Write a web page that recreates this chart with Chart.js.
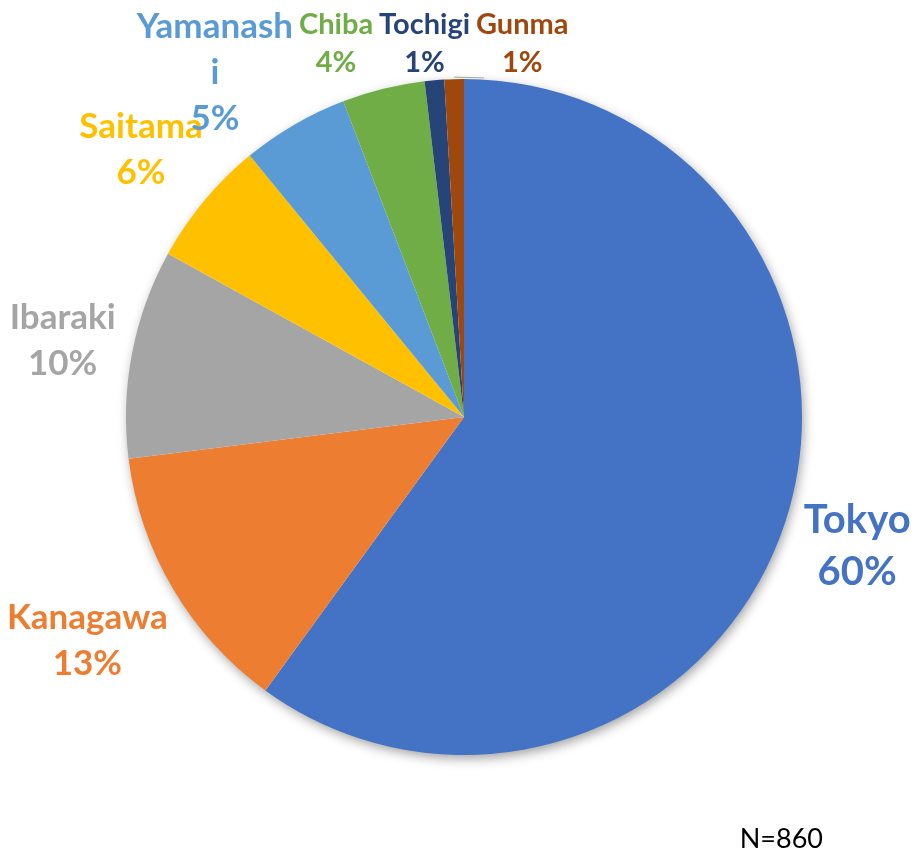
<!DOCTYPE html>
<html>
<head>
<meta charset="utf-8">
<script src="https://cdn.jsdelivr.net/npm/chart.js@4.4.1/dist/chart.umd.min.js"></script>
<style>
  html, body { margin: 0; padding: 0; background: #fff; }
  #wrap { width: 915px; height: 851px; }
</style>
</head>
<body>
<div id="wrap"><canvas id="pieChart" width="915" height="851"></canvas></div>
<script>
const prefectures = ["Tokyo", "Kanagawa", "Ibaraki", "Saitama", "Yamanashi", "Chiba", "Tochigi", "Gunma"];
const respondents = [516, 112, 86, 52, 44, 34, 8, 8];
const sliceColors = ["#4472C4", "#ED7D31", "#A5A5A5", "#FFC000", "#5B9BD5", "#70AD47", "#264478", "#9E480E"];

const total = respondents.reduce((a, b) => a + b, 0);

// break a label by characters when it gets too wide (like Excel does)
function wrapLabel(ctx, text, maxWidth) {
  const lines = [];
  let line = "";
  for (const ch of text) {
    if (line && ctx.measureText(line + ch).width > maxWidth) {
      lines.push(line);
      line = ch;
    } else {
      line += ch;
    }
  }
  lines.push(line);
  return lines;
}

const pieShadow = {
  id: "pieShadow",
  beforeDatasetsDraw(chart) {
    const arc = chart.getDatasetMeta(0).data[0];
    const ctx = chart.ctx;
    ctx.save();
    ctx.shadowColor = "rgba(0,0,0,0.4)";
    ctx.shadowBlur = 12;
    ctx.shadowOffsetX = 2;
    ctx.shadowOffsetY = 4;
    ctx.fillStyle = "#fff";
    ctx.beginPath();
    ctx.arc(arc.x, arc.y, arc.outerRadius - 1, 0, Math.PI * 2);
    ctx.fill();
    ctx.restore();
  },
};

const sliceLabels = {
  id: "sliceLabels",
  afterDatasetsDraw(chart) {
    const ctx = chart.ctx;
    const meta = chart.getDatasetMeta(0);
    const pad = 12, gap = 6, topLimit = 13;

    const boxes = meta.data.map((arc, i) => {
      const share = respondents[i] / total;
      const size = share > 0.5 ? 40 : share >= 0.05 ? 35 : 29;
      const font = `bold ${size}px Lato`;
      ctx.font = font;
      const lines = wrapLabel(ctx, prefectures[i], 163.5);
      lines.push(Math.round(share * 100) + "%");
      const lineH = Math.round(size * 1.3);
      const cap = size * 0.72;
      const w = Math.max(...lines.map((l) => ctx.measureText(l).width));
      const h = (lines.length - 1) * lineH + cap;
      const mid = (arc.startAngle + arc.endAngle) / 2;
      const c = Math.cos(mid), s = Math.sin(mid);
      const d = arc.outerRadius + pad + (Math.abs(c) * w) / 2 + (Math.abs(s) * h) / 2;
      const cx = arc.x + d * c;
      let cy = arc.y + d * s;
      if (cy - h / 2 < topLimit) cy = topLimit + h / 2;
      return { i, arc, mid, font, lines, lineH, cap, w, h, cx, cy, x0: cx };
    });

    // push apart labels sitting on the same row
    const sorted = [...boxes].sort((a, b) => a.cx - b.cx);
    for (let it = 0; it < 400; it++) {
      let moved = false;
      for (let p = 0; p < sorted.length; p++) {
        for (let q = p + 1; q < sorted.length; q++) {
          const a = sorted[p], b = sorted[q];
          const vOverlap =
            Math.min(a.cy + a.h / 2, b.cy + b.h / 2) - Math.max(a.cy - a.h / 2, b.cy - b.h / 2);
          if (vOverlap < 0.5 * Math.min(a.h, b.h)) continue;
          const overlap = a.cx + a.w / 2 + gap - (b.cx - b.w / 2);
          if (overlap > 0.01) {
            a.cx -= overlap / 2;
            b.cx += overlap / 2;
            moved = true;
          }
        }
      }
      if (!moved) break;
    }

    ctx.save();
    boxes.forEach((b) => {
      const top = b.cy - b.h / 2;
      if (Math.abs(b.cx - b.x0) > 45) {
        const r = b.arc.outerRadius;
        ctx.strokeStyle = "#A6A6A6";
        ctx.lineWidth = 1;
        ctx.beginPath();
        ctx.moveTo(b.arc.x + r * Math.cos(b.mid), b.arc.y + r * Math.sin(b.mid) - 2);
        ctx.lineTo(b.cx - b.w / 2 + 8, top + b.h + 6);
        ctx.stroke();
      }
      ctx.font = b.font;
      ctx.fillStyle = sliceColors[b.i];
      ctx.textAlign = "center";
      ctx.textBaseline = "alphabetic";
      b.lines.forEach((line, j) => {
        ctx.fillText(line, b.cx, top + b.cap + j * b.lineH);
      });
    });
    ctx.restore();
  },
  afterDraw(chart) {
    const ctx = chart.ctx;
    ctx.save();
    ctx.font = "27px Lato";
    ctx.fillStyle = "#000";
    ctx.textAlign = "right";
    ctx.textBaseline = "alphabetic";
    ctx.fillText("N=" + total, 823, 848);
    ctx.restore();
  },
};

new Chart(document.getElementById("pieChart"), {
  type: "pie",
  data: {
    labels: prefectures,
    datasets: [
      {
        data: respondents,
        backgroundColor: sliceColors,
        borderWidth: 0,
      },
    ],
  },
  options: {
    responsive: false,
    devicePixelRatio: 1,
    animation: false,
    layout: {
      padding: { left: 126, right: 113, top: 79, bottom: 96 },
    },
    plugins: {
      legend: { display: false },
      tooltip: { enabled: false },
    },
  },
  plugins: [pieShadow, sliceLabels],
});
</script>
</body>
</html>
